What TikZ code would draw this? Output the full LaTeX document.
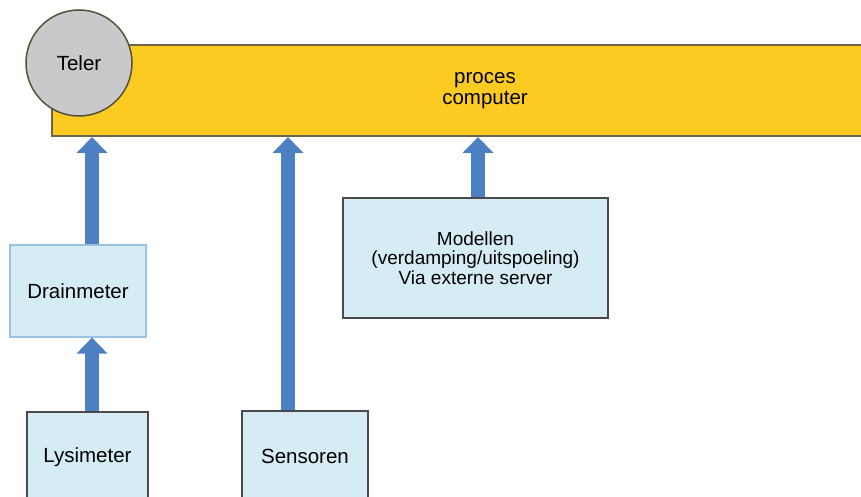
\documentclass[tikz,border=0pt]{standalone}
\usepackage{fontspec}
\setmainfont{Liberation Sans}
\usetikzlibrary{arrows.meta}
\definecolor{procyellow}{HTML}{FBCB22}
\definecolor{procedge}{HTML}{6E6548}
\definecolor{telergray}{HTML}{C9C9CB}
\definecolor{boxblue}{HTML}{D6ECF5}
\definecolor{boxedge}{HTML}{4A4A4A}
\definecolor{draenedge}{HTML}{9CC2E2}
\definecolor{flowblue}{HTML}{4D80C2}
\begin{document}
\begin{tikzpicture}[
				x=1pt, y=-1pt,
				every node/.style={font=\fontsize{20.5}{21}\selectfont, align=center, inner sep=0},
				procbox/.style={draw=procedge, line width=2pt, fill=procyellow},
				unitbox/.style={draw=boxedge, line width=1.2pt, fill=boxblue},
				flow/.style={draw=flowblue, line width=14pt, -{Triangle[width=30pt,length=16pt]}},
			]
			\clip (0,0) rectangle (861,497);
			\fill[white] (0,0) rectangle (861,497);
			\node[procbox, minimum width=866, minimum height=91] (proc) at (485,90.5) {proces\\computer};
			\node[circle, draw=procedge!80!black, line width=1.5pt, fill=telergray, minimum size=106] (teler) at (79,63) {Teler};
			\node[unitbox, draw=draenedge, minimum width=136, minimum height=92] (drain) at (78,291) {Drainmeter};
			\node[unitbox, minimum width=121, minimum height=90] (lys) at (87.5,457) {Lysimeter};
			\node[unitbox, minimum width=126, minimum height=90] (sens) at (305,456) {Sensoren};
			\node[unitbox, minimum width=265, minimum height=120, font=\fontsize{19}{19.5}\selectfont] (model) at (475.5,258) {Modellen\\(verdamping/uitspoeling)\\Via externe server};
			% arrows
			\coordinate (left) at (92,0);
			\coordinate (mid) at (288,0);
			\coordinate (right) at (478,0);
			\draw[flow] (lys.north -| left) -- (drain.south -| left);
			\draw[flow] (drain.north -| left) -- (proc.south -| left);
			\draw[flow] (sens.north -| mid) -- (proc.south -| mid);
			\draw[flow] (model.north -| right) -- (proc.south -| right);
			\end{tikzpicture}
\end{document}
